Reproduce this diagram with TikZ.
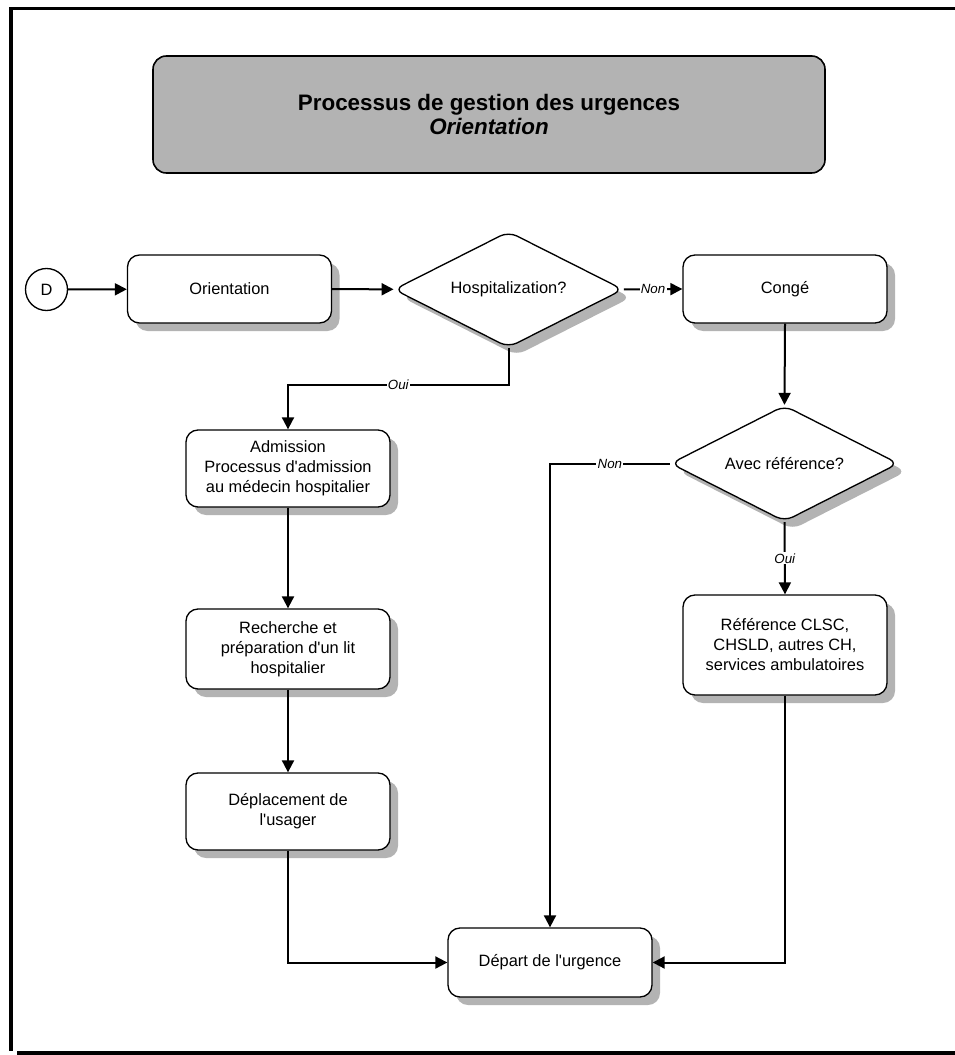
\documentclass[tikz,border=0pt]{standalone}
\usepackage{fontspec}
\setmainfont{Liberation Sans}[Ligatures=TeXOff]
\usetikzlibrary{shapes.geometric,arrows.meta,shadows}

\definecolor{shade}{HTML}{B3B3B3}
\newcommand{\boxfont}{\fontsize{12.3}{15}\selectfont}
\newcommand{\labfont}{\fontsize{10}{12}\selectfont\itshape}
\newcommand{\titlefont}{\fontsize{16.8}{20}\selectfont\bfseries}

\tikzset{
  shadowed/.style={drop shadow={shadow xshift=6pt, shadow yshift=-6pt, fill=shade, opacity=1}},
  procbox/.style={draw, line width=1pt, rounded corners=9pt, fill=white, shadowed,
    minimum width=153pt, align=center, font=\boxfont, inner sep=2pt},
  decision/.style={diamond, aspect=2, draw, line width=1pt, rounded corners=7pt, fill=white, shadowed,
    minimum width=172pt, minimum height=87pt, inner sep=0pt, align=center, font=\boxfont},
  startpt/.style={circle, draw, line width=1pt, fill=white, minimum size=31.5pt, inner sep=0pt, font=\boxfont},
  arr/.style={line width=1.5pt, -{Triangle[length=9pt,width=9pt]}},
  lbl/.style={fill=white, inner sep=1pt, font=\labfont},
  frame/.style={line width=2.3pt}
}

\begin{document}
\begin{tikzpicture}[x=0.75pt, y=-0.75pt]
  \useasboundingbox (0,0) rectangle (955,1055);

  % page frame
  \draw[frame] (958,8.5) -- (11,8.5) -- (11,1051);
  \draw[frame] (17,1053) -- (958,1053);

  % title
  \node[draw, line width=1.2pt, rounded corners=10pt, fill=shade,
        minimum width=504pt, minimum height=87.75pt, align=center] (title) at (489,114.5)
    {\titlefont Processus de gestion des urgences\\[1pt]\titlefont\itshape Orientation};

  % nodes
  \node[startpt] (D) at (46.5,289.5) {D};
  \node[procbox, minimum height=51pt] (orient) at (229.5,289) {Orientation};
  \node[decision] (hosp) at (508.5,289.5) {Hospitalization?};
  \node[procbox, minimum height=51pt] (conge) at (785,289) {Congé};
  \node[decision, minimum width=171pt] (avec) at (784.5,463.5) {Avec référence?};
  \node[procbox, minimum height=75pt] (refbox) at (785,645)
    {Référence CLSC,\\CHSLD, autres CH,\\services ambulatoires};
  \node[procbox, minimum height=57.75pt] (adm) at (288,468.5)
    {Admission\\Processus d'admission\\au médecin hospitalier};
  \node[procbox, minimum height=60pt] (rech) at (288,649)
    {Recherche et\\préparation d'un lit\\hospitalier};
  \node[procbox, minimum height=57.75pt] (depl) at (288,811.5)
    {Déplacement de\\l'usager};
  \node[procbox, minimum height=51.75pt] (depart) at (550,962.5) {Départ de l'urgence};

  % connectors
  \draw[arr] (D) -- (orient);
  \draw[arr] (orient) -- (hosp);
  \draw[arr] (hosp.east) -- node[lbl]{Non} (conge.west);
  \draw[arr] (conge.south) -- (avec.north);
  \draw[arr] (avec.west) -| node[lbl, pos=0.25]{Non} (depart.north);
  \draw[arr] (avec.south) -- node[lbl]{Oui} (refbox.north);
  \draw[arr] (refbox.south) |- (depart.east);
  \draw[arr] (hosp.south) -- ++(0,37) -| node[lbl, pos=0.25]{Oui} (adm.north);
  \draw[arr] (adm) -- (rech);
  \draw[arr] (rech) -- (depl);
  \draw[arr] (depl.south) |- (depart.west);
\end{tikzpicture}
\end{document}
